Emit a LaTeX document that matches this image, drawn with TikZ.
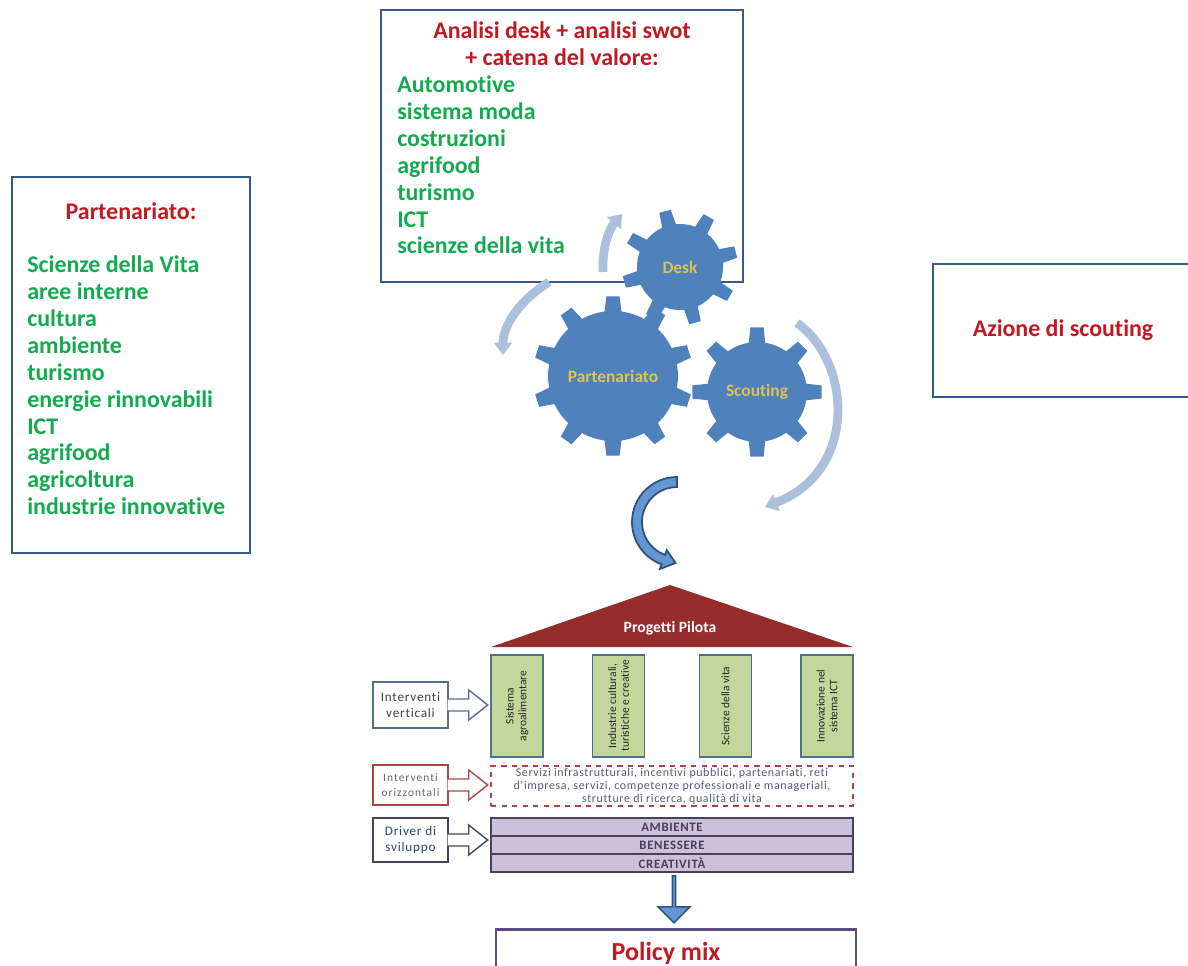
\documentclass[tikz,border=0pt]{standalone}
\usepackage{fontspec}
\setmainfont{Carlito}[Ligatures=CommonOff]
\usepackage{xcolor}
\usetikzlibrary{arrows.meta}
\usetikzlibrary{shapes.arrows}

\definecolor{frameblue}{RGB}{55,90,140}
\definecolor{titlered}{RGB}{192,25,35}
\definecolor{listgreen}{RGB}{20,170,80}
\definecolor{gearblue}{RGB}{79,129,189}
\definecolor{gearyellow}{RGB}{222,195,80}
\definecolor{cyclegrey}{RGB}{172,192,222}
\definecolor{roofred}{RGB}{150,45,45}
\definecolor{pillargreen}{RGB}{195,214,155}
\definecolor{pillarframe}{RGB}{85,110,140}
\definecolor{drivelilac}{RGB}{204,192,218}
\definecolor{driveframe}{RGB}{70,65,95}
\definecolor{servred}{RGB}{170,70,70}
\definecolor{servtext}{RGB}{85,90,115}
\definecolor{arrowfill}{RGB}{100,150,210}
\definecolor{arrowline}{RGB}{45,80,130}
\definecolor{policyframe}{RGB}{95,75,125}

% one pixel of the layout
\newcommand{\pxu}{0.02cm}
% centre, teeth, root radius, tip radius, turn
\newcommand{\drawgear}[5]{%
  \fill[gearblue] ([shift={(#1)}]{#5+0.79*360/#2}:#3)
    \foreach \i [evaluate=\i as \ga using {#5+\i*360/#2},
                 evaluate=\i as \gs using {360/#2}] in {1,...,#2} {
      -- ([shift={(#1)}]\ga-0.13*\gs:#4) -- ([shift={(#1)}]\ga+0.13*\gs:#4)
      -- ([shift={(#1)}]\ga+0.21*\gs:#3)
      arc[start angle=\ga+0.21*\gs, end angle=\ga+0.79*\gs, radius=#3]
    } -- cycle;}

\begin{document}
\begin{tikzpicture}[x=0.02cm,y=-0.02cm,
    bigbox/.style={draw=frameblue,line width=1.6pt,fill=white},
    title/.style={text=titlered,font=\fontsize{13.6}{15.3}\selectfont\bfseries,align=center,inner sep=0},
    list/.style={text=listgreen,font=\fontsize{13.6}{15.3}\selectfont\bfseries,align=left,inner sep=0,anchor=west},
    gearlabel/.style={text=gearyellow,font=\fontsize{9.9}{11}\selectfont\bfseries},
    cycle/.style={draw=cyclegrey,line width=5pt,-{Triangle[width=10pt,length=7pt]}},
    pillar/.style={draw=pillarframe,fill=pillargreen,line width=0.8pt,rotate=90,
      minimum width=102*\pxu,minimum height=52*\pxu,inner sep=1pt,align=center,
      text=black!85,font=\fontsize{6.5}{7.2}\selectfont},
    callout/.style={fill=white,line width=0.8pt,minimum width=75*\pxu,align=center,inner sep=1pt,
      font=\fontsize{7.5}{9}\selectfont\addfontfeatures{LetterSpace=6}},
    bar/.style={draw=driveframe,fill=drivelilac,line width=0.9pt,minimum width=362*\pxu,
      minimum height=18*\pxu,inner sep=0,text=driveframe,
      font=\fontsize{7.3}{8}\selectfont\bfseries\addfontfeatures{LetterSpace=5}}]
  \useasboundingbox (0,0) rectangle (1188,966);
  \clip (0,0) rectangle (1188,966);

  % analisi desk
  \node[bigbox,minimum width=362*\pxu,minimum height=272*\pxu] (deskbox) at (562,146) {};
  \node[title] (desktitle) at (562,44) {Analisi desk + analisi swot\\+ catena del valore:};
  \node[list] (desklist) at (397,165) {Automotive\\sistema moda\\costruzioni\\agrifood\\turismo\\ICT\\scienze della vita};

  % partenariato
  \node[bigbox,minimum width=238*\pxu,minimum height=376*\pxu] (partbox) at (131,365) {};
  \node[title] (parttitle) at (131,211) {Partenariato:};
  \node[list] (partlist) at (27,385.5) {Scienze della Vita\\aree interne\\cultura\\ambiente\\turismo\\energie rinnovabili\\ICT\\agrifood\\agricoltura\\industrie innovative};

  % scouting
  \node[bigbox,minimum width=260*\pxu,minimum height=133*\pxu,title] (scoutbox) at (1063,330.5) {Azione di scouting};

  % gears
  \coordinate (deskc) at (680,267);
  \coordinate (partc) at (613,376);
  \coordinate (scoutc) at (757,392);
  \drawgear{deskc}{8}{43}{58}{-15}
  \drawgear{partc}{10}{65}{80}{-90}
  \drawgear{scoutc}{8}{50}{65}{-90}
  \node[gearlabel] (desk) at (deskc) {Desk};
  \node[gearlabel] (part) at (partc) {Partenariato};
  \node[gearlabel] (scout) at (scoutc) {Scouting};

  \coordinate (c1a) at (603,272); \coordinate (c1b) at (622,214);
  \coordinate (c2a) at (549,282); \coordinate (c2b) at (503,355);
  \coordinate (c3a) at (797,323); \coordinate (c3b) at (765,507);
  \draw[cycle] (c1a) .. controls (602,245) and (610,228) .. (c1b);
  \draw[cycle] (c2a) .. controls (520,300) and (503,325) .. (c2b);
  \draw[cycle] (c3a) .. controls (850,360) and (860,470) .. (c3b);

  % turn arrow to the pillars
  \coordinate (turn) at (677,522);
  \draw[fill=arrowfill,draw=arrowline,line width=1pt]
    ([shift={(turn)}]-90:45) arc[start angle=-90,end angle=-250,radius=45]
    -- ([shift={(turn)}]-250:50) -- ([shift={(turn)}]-268:41)
    -- ([shift={(turn)}]-250:30) -- ([shift={(turn)}]-250:35)
    arc[start angle=-250,end angle=-90,radius=35] -- cycle;

  % progetti pilota
  \fill[roofred] (491,647) -- (670,585) -- (853,647) -- cycle;
  \node[text=white,font=\fontsize{8.9}{9}\selectfont\bfseries] (pp) at (670,628) {Progetti Pilota};
  \node[pillar] (p1) at (517,706) {Sistema\\agroalimentare};
  \node[pillar] (p2) at (618.5,706) {Industrie culturali,\\turistiche e creative};
  \node[pillar] (p3) at (725.5,706) {Scienze della vita};
  \node[pillar] (p4) at (827,706) {Innovazione nel\\sistema ICT};

  \node[draw=servred,dashed,line width=0.8pt,minimum width=362*\pxu,minimum height=40*\pxu,
    inner sep=0,align=center,text=servtext,
    font=\fontsize{6.8}{7.4}\selectfont\addfontfeatures{LetterSpace=5}] (serv) at (672,786)
    {Servizi infrastrutturali, incentivi pubblici, partenariati, reti\\d'impresa, servizi, competenze professionali e manageriali,\\strutture di ricerca, qualità di vita};

  \node[bar] (amb) at (672,827) {AMBIENTE};
  \node[bar] (ben) at (672,845) {BENESSERE};
  \node[bar] (cre) at (672,863) {CREATIVITÀ};

  % callouts
  \node[callout,draw=pillarframe,minimum height=46*\pxu,text=black!75] (iv) at (410.5,705) {Interventi\\verticali};
  \node[callout,draw=servred,minimum height=40*\pxu,text=black!60,
    font=\fontsize{6.5}{8.5}\selectfont\addfontfeatures{LetterSpace=9}] (io) at (410.5,785) {Interventi\\orizzontali};
  \node[callout,draw=driveframe,minimum height=44*\pxu,text=frameblue!80!black] (ds) at (410.5,840) {Driver di\\sviluppo};
  \draw[draw=pillarframe,fill=white,line width=0.8pt] (iv.east) ++(-1,-6) -- ++(21,0) -- ++(0,-9) -- ++(19,15) -- ++(-19,15) -- ++(0,-9) -- ++(-21,0);
  \draw[draw=servred,fill=white,line width=0.8pt] (io.east) ++(-1,-6) -- ++(21,0) -- ++(0,-9) -- ++(19,15) -- ++(-19,15) -- ++(0,-9) -- ++(-21,0);
  \draw[draw=driveframe,fill=white,line width=0.8pt] (ds.east) ++(-1,-6) -- ++(21,0) -- ++(0,-9) -- ++(19,15) -- ++(-19,15) -- ++(0,-9) -- ++(-21,0);

  % policy mix
  \node[single arrow,shape border rotate=270,draw=arrowline,fill=arrowfill,line width=0.8pt,
    minimum height=47*\pxu,minimum width=32*\pxu,single arrow head extend=6*\pxu,inner sep=0] (down) at (674,898.5) {};
  \node[draw=policyframe,line width=1.5pt,fill=white,anchor=north,minimum width=360*\pxu,minimum height=48*\pxu,
    text=titlered,font=\fontsize{14.8}{16}\selectfont\bfseries] (policy) at (676,928) {Policy mix\kern11.3pt};
\end{tikzpicture}
\end{document}
